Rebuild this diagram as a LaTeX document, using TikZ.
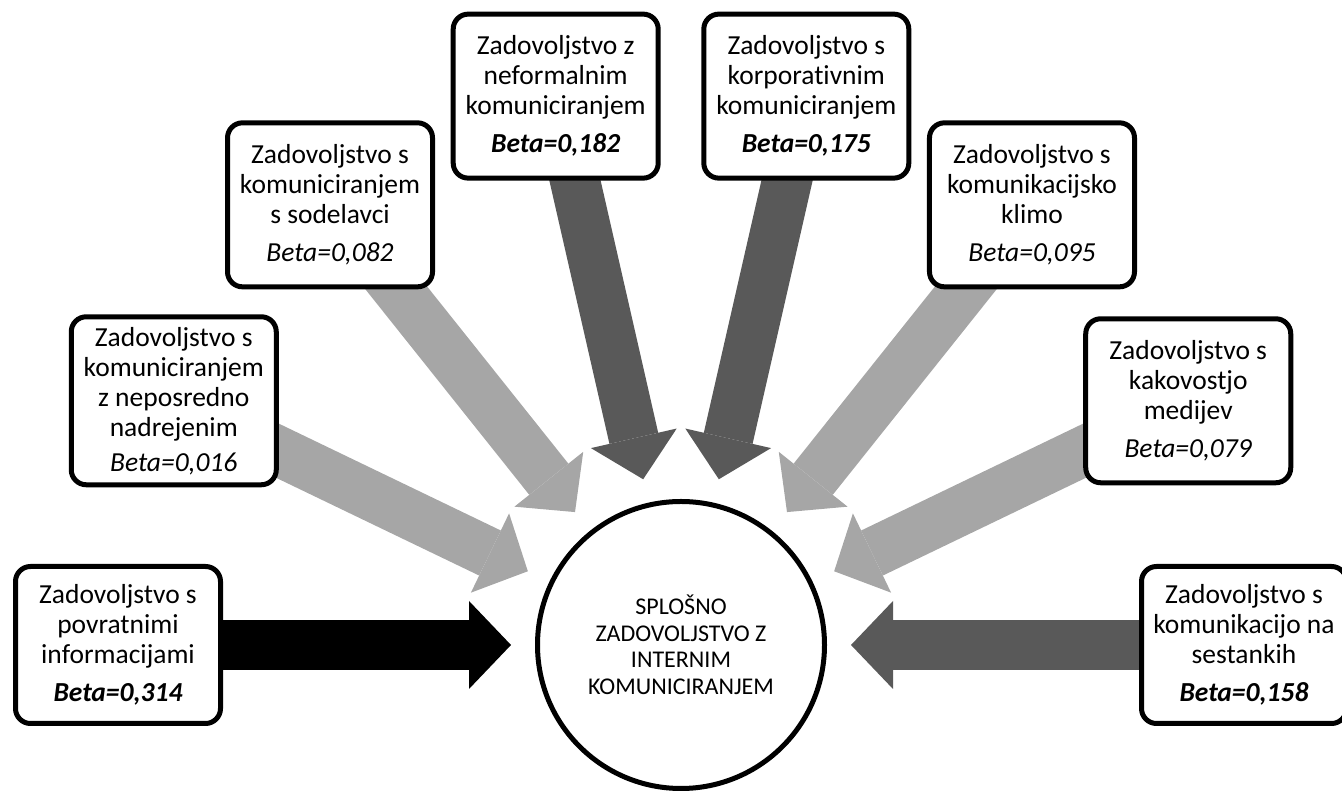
\documentclass[tikz,border=0pt]{standalone}
\usepackage{fontspec}
\setmainfont{Carlito}[Ligatures=NoCommon]
\usetikzlibrary{
    arrows.meta,
    calc,
    positioning
}
\pgfdeclarelayer{bg}
\pgfsetlayers{bg,main}

\definecolor{betahigh}{HTML}{000000}
\definecolor{betamid}{HTML}{595959}
\definecolor{betalow}{HTML}{A6A6A6}

\tikzset{
    factorbox/.style={draw, line width=5pt, rounded corners=15pt, fill=white,
        minimum width=205pt, minimum height=164pt, inner sep=0pt,
        align=center, font=\fontsize{27.5}{30}\selectfont},
    centrecircle/.style={circle, draw, line width=5pt, fill=white,
        minimum size=287pt, inner sep=0pt, align=center,
        font=\fontsize{24}{26.5}\selectfont},
    betaarrow/.style={line width=50pt, color=#1,
        -{Triangle[width=88pt, length=42pt, line width=0pt]}}
}

\begin{document}
\begin{tikzpicture}[x=1pt, y=1pt]
    \useasboundingbox (0, 0) rectangle (1342, 794);

    % centre of the fan
    \coordinate (O) at (681, 149);
    \node[centrecircle] (splosno) at (O)
        {SPLOŠNO\\ZADOVOLJSTVO Z\\INTERNIM\\KOMUNICIRANJEM};

    % factors, on a half circle round the centre
    \node[factorbox, minimum height=157pt] (povratne) at ([shift={(180:563)}]O)
        {Zadovoljstvo s\\povratnimi\\informacijami\\[8pt]\textbf{\textit{Beta=0,314}}};
    \node[factorbox, minimum height=168pt] (nadrejeni) at ([shift={(154.29:563)}]O)
        {Zadovoljstvo s\\komuniciranjem\\z neposredno\\nadrejenim\\[5pt]\textit{Beta=0,016}};
    \node[factorbox] (sodelavci) at ([shift={(128.57:563)}]O)
        {Zadovoljstvo s\\komuniciranjem\\s sodelavci\\[8pt]\textit{Beta=0,082}};
    \node[factorbox] (neformalno) at ([shift={(102.86:563)}]O)
        {Zadovoljstvo z\\neformalnim\\komuniciranjem\\[8pt]\textbf{\textit{Beta=0,182}}};
    \node[factorbox] (korporativno) at ([shift={(77.14:563)}]O)
        {Zadovoljstvo s\\korporativnim\\komuniciranjem\\[8pt]\textbf{\textit{Beta=0,175}}};
    \node[factorbox] (klima) at ([shift={(51.43:563)}]O)
        {Zadovoljstvo s\\komunikacijsko\\klimo\\[8pt]\textit{Beta=0,095}};
    \node[factorbox] (mediji) at ([shift={(25.71:563)}]O)
        {Zadovoljstvo s\\kakovostjo\\medijev\\[8pt]\textit{Beta=0,079}};
    \node[factorbox, minimum height=157pt] (sestanki) at ([shift={(0:563)}]O)
        {Zadovoljstvo s\\komunikacijo na\\sestankih\\[8pt]\textbf{\textit{Beta=0,158}}};

    % arrow tips, just off the circle
    \coordinate (tpovratne) at ([shift={(180:170)}]O);
    \coordinate (tnadrejeni) at ([shift={(154.29:170)}]O);
    \coordinate (tsodelavci) at ([shift={(128.57:170)}]O);
    \coordinate (tneformalno) at ([shift={(102.86:170)}]O);
    \coordinate (tkorporativno) at ([shift={(77.14:170)}]O);
    \coordinate (tklima) at ([shift={(51.43:170)}]O);
    \coordinate (tmediji) at ([shift={(25.71:170)}]O);
    \coordinate (tsestanki) at ([shift={(0:170)}]O);

    \begin{pgfonlayer}{bg}
        \draw[betaarrow=betahigh] (povratne.center) -- (tpovratne);
        \draw[betaarrow=betalow] (nadrejeni.center) -- (tnadrejeni);
        \draw[betaarrow=betalow] (sodelavci.center) -- (tsodelavci);
        \draw[betaarrow=betamid] (neformalno.center) -- (tneformalno);
        \draw[betaarrow=betamid] (korporativno.center) -- (tkorporativno);
        \draw[betaarrow=betalow] (klima.center) -- (tklima);
        \draw[betaarrow=betalow] (mediji.center) -- (tmediji);
        \draw[betaarrow=betamid] (sestanki.center) -- (tsestanki);
    \end{pgfonlayer}
\end{tikzpicture}
\end{document}
